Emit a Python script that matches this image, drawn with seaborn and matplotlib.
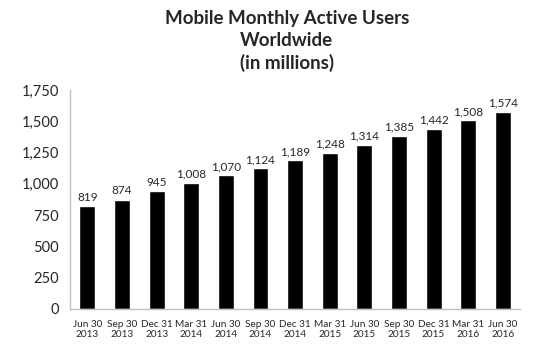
import numpy as np
import pandas as pd
import seaborn as sns
from matplotlib import pyplot as plt
from matplotlib.ticker import FuncFormatter

# quarter labels and MAU values (millions)
quarters = ['Jun 30\n2013', 'Sep 30\n2013', 'Dec 31\n2013', 'Mar 31\n2014', 'Jun 30\n2014',
            'Sep 30\n2014', 'Dec 31\n2014', 'Mar 31\n2015', 'Jun 30\n2015', 'Sep 30\n2015',
            'Dec 31\n2015', 'Mar 31\n2016', 'Jun 30\n2016']
users = [819, 874, 945, 1008, 1070, 1124, 1189, 1248, 1314, 1385, 1442, 1508, 1574]

df = pd.DataFrame({'Quarter': quarters, 'Users': users})

sns.set_style('white')
plt.rcParams['font.family'] = ['Lato', 'DejaVu Sans']

fig = plt.figure(figsize=(5.39, 3.6), dpi=100)
ax = fig.add_axes([0.130, 0.142, 0.835, 0.608])

sns.barplot(data=df, x='Quarter', y='Users', color='black', width=0.46, ax=ax, saturation=1)

# value labels above bars
for i, v in enumerate(users):
    ax.text(i, v + 25, f'{v:,}', ha='center', va='bottom', fontsize=8.5)

ax.set_ylim(0, 1750)
ax.set_xlim(-0.5, len(quarters) - 0.5)
ax.set_yticks(np.arange(0, 1751, 250))
ax.yaxis.set_major_formatter(FuncFormatter(lambda v, p: f'{int(v):,}'))
ax.tick_params(axis='y', labelsize=10.5, length=0, pad=8)
ax.tick_params(axis='x', labelsize=7.2, length=0, pad=8)
ax.set_xlabel('')
ax.set_ylabel('')

for s in ['top', 'right']:
    ax.spines[s].set_visible(False)
for s in ['left', 'bottom']:
    ax.spines[s].set_color('#bfbfbf')
    ax.spines[s].set_linewidth(1)

fig.text(0.532, 0.972, 'Mobile Monthly Active Users\nWorldwide\n(in millions)',
         ha='center', va='top', fontsize=13.5, fontweight='bold', linespacing=1.35)

fig.savefig('out.png', dpi=100)
